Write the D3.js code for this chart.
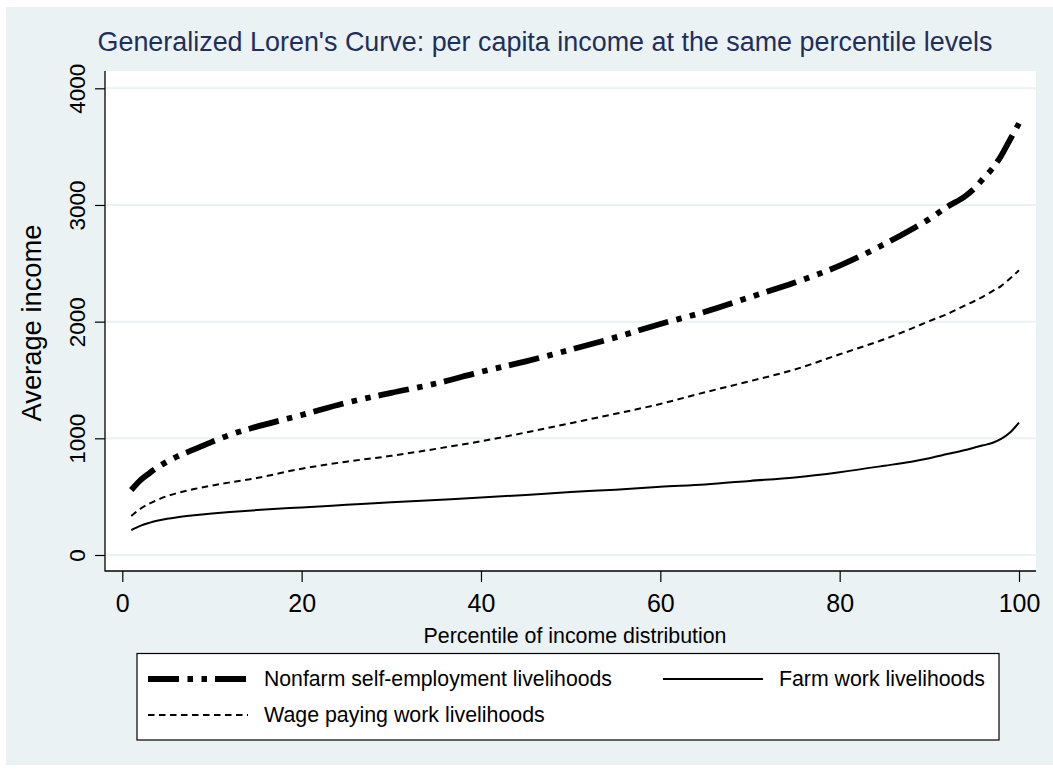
<!DOCTYPE html>
<html>
<head>
<meta charset="utf-8">
<script src="https://cdn.jsdelivr.net/npm/d3@7"></script>
<style>
  html, body { margin: 0; padding: 0; background: #ffffff; }
  svg { display: block; font-family: Arial, "Liberation Sans", Helvetica, sans-serif; }
</style>
</head>
<body>
<svg id="chart" width="1053" height="771"></svg>
<script>
// Percentile points at which each generalized Lorenz curve is sampled
const percentiles = [1, 2, 3, 4, 5, 6, 8, 10, 12, 15, 20, 25, 30, 35, 40, 45, 50, 55, 60,
                     65, 70, 75, 80, 85, 88, 90, 92, 94, 95, 96, 97, 98, 99, 100];

// Average per capita income at each percentile, by livelihood
const nonfarmIncome = [557, 640, 700, 755, 800, 840, 905, 970, 1030, 1100, 1200, 1305, 1390, 1470,
                       1570, 1660, 1760, 1865, 1980, 2085, 2210, 2335, 2480, 2665, 2790, 2880,
                       2985, 3075, 3140, 3225, 3310, 3420, 3560, 3700];
const wageIncome    = [334, 395, 440, 475, 505, 528, 565, 595, 622, 660, 740, 800, 850, 910,
                       975, 1050, 1130, 1210, 1295, 1395, 1490, 1590, 1720, 1850, 1940, 2005,
                       2065, 2140, 2175, 2215, 2260, 2305, 2370, 2440];
const farmIncome    = [214, 250, 275, 295, 310, 322, 340, 355, 368, 385, 408, 430, 452, 472,
                       492, 515, 540, 560, 585, 605, 635, 665, 710, 765, 800, 830, 865, 900,
                       920, 940, 960, 995, 1050, 1134];

const xTicks = [0, 20, 40, 60, 80, 100];
const yTicks = [0, 1000, 2000, 3000, 4000];

const seriesNames = ["Nonfarm self-employment livelihoods", "Farm work livelihoods",
                     "Wage paying work livelihoods"];

const titleText = "Generalized Loren's Curve: per capita income at the same percentile levels";
const xTitle = "Percentile of income distribution";
const yTitle = "Average income";

// ---- layout ----
const W = 1053, H = 771;
const plot = { left: 105, right: 1036, top: 71, bottom: 571 };
const bgColor = "#eaf2f3";
const titleColor = "#1f2f5a";

const svg = d3.select("#chart");

// scale a text element's font so that it spans the wanted width
function fitWidth(sel, width) {
  const node = sel.node();
  const fs = parseFloat(sel.attr("font-size"));
  const len = node.getComputedTextLength();
  if (len > 0) sel.attr("font-size", (fs * width / len).toFixed(2));
  return sel;
}

// outer graph region
svg.append("rect").attr("x", 6).attr("y", 7).attr("width", W - 6).attr("height", H - 13)
   .attr("fill", bgColor);

// plot region
svg.append("rect")
   .attr("x", plot.left).attr("y", plot.top)
   .attr("width", plot.right - plot.left).attr("height", plot.bottom - plot.top)
   .attr("fill", "#ffffff");

const x = d3.scaleLinear().domain([0, 100]).range([122.3, 1019]);
const y = d3.scaleLinear().domain([0, 4000]).range([555, 88.3]);

// horizontal grid lines
svg.append("g").selectAll("line").data(yTicks).join("line")
   .attr("x1", plot.left + 1).attr("x2", plot.right)
   .attr("y1", d => y(d)).attr("y2", d => y(d))
   .attr("stroke", bgColor).attr("stroke-width", 2);

// y axis
const yAxis = svg.append("g")
   .attr("transform", `translate(${plot.left},0)`)
   .call(d3.axisLeft(y).tickValues(yTicks).tickSize(10).tickPadding(0).tickFormat(d3.format("d")));
yAxis.select(".domain").remove();
yAxis.selectAll(".tick line").attr("stroke", "#000").attr("stroke-width", 1.2);
yAxis.selectAll(".tick text")
   .attr("font-size", 22.5).attr("fill", "#000")
   .attr("text-anchor", "middle")
   .attr("transform", "translate(-28,0) rotate(-90)")
   .attr("x", 0).attr("dy", "0.35em");
svg.append("line").attr("x1", plot.left).attr("x2", plot.left)
   .attr("y1", plot.top).attr("y2", plot.bottom + 0.5)
   .attr("stroke", "#000").attr("stroke-width", 1.3);

// x axis
const xAxis = svg.append("g")
   .attr("transform", `translate(0,${plot.bottom})`)
   .call(d3.axisBottom(x).tickValues(xTicks).tickSize(11).tickPadding(0).tickFormat(d3.format("d")));
xAxis.select(".domain").remove();
xAxis.selectAll(".tick line").attr("stroke", "#000").attr("stroke-width", 1.2);
xAxis.selectAll(".tick text")
   .attr("font-size", 25).attr("fill", "#000")
   .attr("y", 41).attr("dy", 0);
svg.append("line").attr("x1", plot.left).attr("x2", plot.right)
   .attr("y1", plot.bottom).attr("y2", plot.bottom)
   .attr("stroke", "#000").attr("stroke-width", 1.3);

// axis titles
fitWidth(svg.append("text").attr("x", 575).attr("y", 643).attr("text-anchor", "middle")
   .attr("font-size", 18).attr("fill", "#000").text(xTitle), 303);
fitWidth(svg.append("text").attr("transform", `translate(41,${323}) rotate(-90)`)
   .attr("text-anchor", "middle").attr("font-size", 27).attr("fill", "#000").text(yTitle), 197);

// chart title
fitWidth(svg.append("text").attr("x", 545).attr("y", 51).attr("text-anchor", "middle")
   .attr("font-size", 22).attr("fill", titleColor).text(titleText), 895);

// ---- curves ----
const styles = [
  { values: nonfarmIncome, width: 5.8, dash: "31,8.5,5.5,8.5,5.5,8" },
  { values: farmIncome,    width: 2,   dash: null },
  { values: wageIncome,    width: 2,   dash: "6.5,4.5" }
];

const line = d3.line()
   .x(d => x(d[0])).y(d => y(d[1]))
   .curve(d3.curveMonotoneX);

styles.forEach(s => {
  svg.append("path")
     .datum(percentiles.map((p, i) => [p, s.values[i]]))
     .attr("d", line)
     .attr("fill", "none")
     .attr("stroke", "#000")
     .attr("stroke-width", s.width)
     .attr("stroke-linecap", "butt")
     .attr("stroke-linejoin", "round")
     .attr("stroke-dasharray", s.dash);
});

// ---- legend ----
const legend = svg.append("g");
legend.append("rect").attr("x", 137).attr("y", 653.5).attr("width", 862).attr("height", 86.5)
   .attr("fill", "#ffffff").attr("stroke", "#000").attr("stroke-width", 1.2);

const legendItems = [
  { name: seriesNames[0], style: styles[0], kx: 148, tx: 264, ky: 679, w: 348 },
  { name: seriesNames[1], style: styles[1], kx: 663, tx: 779, ky: 679, w: 206 },
  { name: seriesNames[2], style: styles[2], kx: 148, tx: 264, ky: 715, w: 281 }
];
legendItems.forEach(it => {
  legend.append("line")
     .attr("x1", it.kx).attr("x2", it.kx + 100)
     .attr("y1", it.ky).attr("y2", it.ky)
     .attr("stroke", "#000").attr("stroke-width", it.style.width)
     .attr("stroke-dasharray", it.style.dash);
  fitWidth(legend.append("text").attr("x", it.tx).attr("y", it.ky).attr("dy", "0.35em")
     .attr("font-size", 18.5).attr("fill", "#000").text(it.name), it.w);
});
</script>
</body>
</html>
